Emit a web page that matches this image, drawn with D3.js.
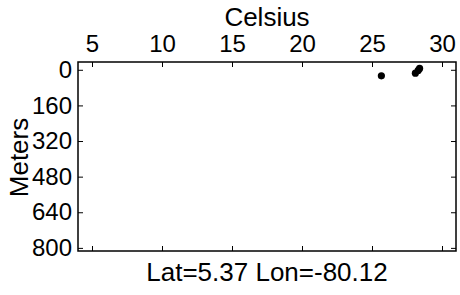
<!DOCTYPE html>
<meta charset="utf-8">
<script src="https://d3js.org/d3.v7.min.js"></script>
<style>
  body { margin: 0; background: #fff; }
  text { font-family: "Liberation Sans", Arial, sans-serif; fill: #000; }
</style>
<div id="chart"></div>
<script>
// temperature (Celsius) vs depth (Meters)
var temps  = [25.67, 28.1, 28.3, 28.4];
var depths = [27, 15, 3, -6];
var xTicks = [5, 10, 15, 20, 25, 30];
var yTicks = [0, 160, 320, 480, 640, 800];
var xTitle = "Celsius", yTitle = "Meters", caption = "Lat=5.37 Lon=-80.12";

var W = 460, H = 295;
var margin = {top: 62, right: 4, bottom: 44, left: 78};
var width = W - margin.left - margin.right,
    height = H - margin.top - margin.bottom;

var svg = d3.select("#chart").append("svg")
    .attr("width", W).attr("height", H);
var g = svg.append("g")
    .attr("transform", "translate(" + margin.left + "," + margin.top + ")");

var x = d3.scaleLinear().domain([4, 31]).range([0, width]);
var y = d3.scaleLinear().domain([-35, 814]).range([0, height]);

// top axis with labels, inward ticks
var topAxis = g.append("g").call(d3.axisTop(x).tickValues(xTicks).tickSizeInner(-5).tickSizeOuter(0).tickPadding(10));
topAxis.selectAll("text").style("font-size", "24px");
// bottom axis ticks only
g.append("g").attr("transform", "translate(0," + height + ")")
  .call(d3.axisBottom(x).tickValues(xTicks).tickSizeInner(-5).tickSizeOuter(0).tickFormat(""));
// left axis with labels
var leftAxis = g.append("g").call(d3.axisLeft(y).tickValues(yTicks).tickSizeInner(-5).tickSizeOuter(0).tickPadding(6));
leftAxis.selectAll("text").style("font-size", "24px");
// right axis ticks only
g.append("g").attr("transform", "translate(" + width + ",0)")
  .call(d3.axisRight(y).tickValues(yTicks).tickSizeInner(-5).tickSizeOuter(0).tickFormat(""));

g.selectAll(".domain").remove();
g.selectAll(".tick line").attr("stroke", "#000");
g.append("rect").attr("width", width).attr("height", height)
  .attr("fill", "none").attr("stroke", "#000").attr("stroke-width", 1.5);

// dots
g.selectAll("circle").data(temps).enter().append("circle")
  .attr("cx", function(d) { return x(d); })
  .attr("cy", function(d, i) { return y(depths[i]); })
  .attr("r", 3.6).attr("fill", "#000");

svg.append("text").attr("x", margin.left + width / 2).attr("y", 26)
  .attr("text-anchor", "middle").style("font-size", "26px").text(xTitle);
svg.append("text").attr("x", margin.left + width / 2).attr("y", 281)
  .attr("text-anchor", "middle").style("font-size", "26px").text(caption);
svg.append("text")
  .attr("transform", "translate(28," + (margin.top + height / 2 + 1) + ") rotate(-90)")
  .attr("text-anchor", "middle").style("font-size", "26px").text(yTitle);
</script>
